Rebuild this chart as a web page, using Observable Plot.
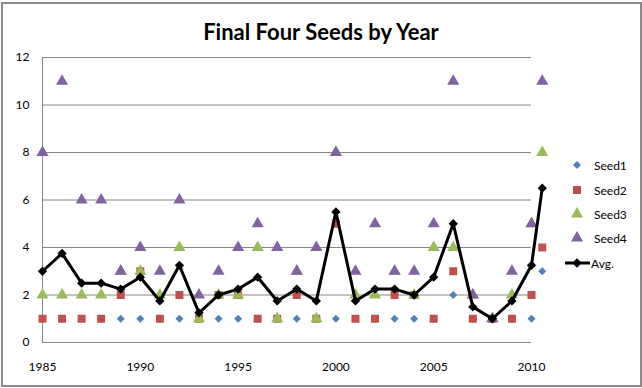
<!DOCTYPE html>
<html>
<head>
<meta charset="utf-8">
<script src="https://cdn.jsdelivr.net/npm/d3@7"></script>
<script src="https://cdn.jsdelivr.net/npm/@observablehq/plot@0.6"></script>
<style>
  html, body { margin: 0; padding: 0; background: #fff; }
  #wrap { position: relative; width: 642px; height: 388px; font-family: Lato, "Open Sans", sans-serif; }
  #frame { position: absolute; left: 1px; top: 2px; width: 637px; height: 381px; border: 2px solid #8a8a8a; box-sizing: content-box; pointer-events: none; }
  #title { position: absolute; left: 0; width: 642px; top: 18px; text-align: center; font-weight: bold; font-size: 22px; color: #000; }
  #chart { position: absolute; left: 0; top: 0; }
  .leg { position: absolute; left: 560px; font-size: 12px; color: #000; display: flex; align-items: center; }
  .leg svg { margin-right: 4px; }
</style>
</head>
<body>
<div id="wrap">
  <div id="chart"></div>
  <div id="title">Final Four Seeds by Year</div>
  <div id="legend"></div>
  <div id="frame"></div>
</div>
<script>
// Years (last point drawn just past the 2010 edge, as in the reference)
const years = [1985,1986,1987,1988,1989,1990,1991,1992,1993,1994,1995,1996,1997,1998,1999,2000,2001,2002,2003,2004,2005,2006,2007,2008,2009,2010,2010.55];
const seed1 = [1,1,1,1,1,1,1,1,1,1,1,1,1,1,1,1,1,1,1,1,1,2,1,1,1,1,3];
const seed2 = [1,1,1,1,2,3,1,2,1,2,2,1,1,2,1,5,1,1,2,2,1,3,1,1,1,2,4];
const seed3 = [2,2,2,2,3,3,2,4,1,2,2,4,1,3,1,8,2,2,3,2,4,4,2,1,2,5,8];
const seed4 = [8,11,6,6,3,4,3,6,2,3,4,5,4,3,4,8,3,5,3,3,5,11,2,1,3,5,11];
const avg   = [3,3.75,2.5,2.5,2.25,2.75,1.75,3.25,1.25,2,2.25,2.75,1.75,2.25,1.75,5.5,1.75,2.25,2.25,2,2.75,5,1.5,1,1.75,3.25,6.5];
const yTicks = [0,2,4,6,8,10,12];
const xTicks = [1985,1990,1995,2000,2005,2010];
const seriesNames = ["Seed1","Seed2","Seed3","Seed4","Avg."];
const colors = ["#4F81BD","#C0504D","#9BBB59","#8064A2","#000000"];

const rows = years.map((y, i) => ({year: y, s1: seed1[i], s2: seed2[i], s3: seed3[i], s4: seed4[i], avg: avg[i]}));

const chart = Plot.plot({
  width: 642,
  height: 388,
  marginLeft: 42,
  marginRight: 111,
  marginTop: 57,
  marginBottom: 46,
  style: {fontFamily: "Lato, 'Open Sans', sans-serif", fontSize: "12px", background: "transparent", overflow: "visible"},
  x: {domain: [1985, 2010], label: null},
  y: {domain: [0, 12], label: null},
  marks: [
    Plot.gridY(yTicks, {stroke: "#868686", strokeOpacity: 1, strokeWidth: 1}),
    Plot.ruleX([1985], {stroke: "#868686", strokeWidth: 1}),
    Plot.axisY({ticks: yTicks, tickSize: 0, tickPadding: 13, fill: "#000", fontSize: 12, label: null}),
    Plot.axisX({ticks: xTicks, tickSize: 0, tickPadding: 20, fill: "#000", fontSize: 12, label: null, tickFormat: d => String(d)}),
    Plot.dot(rows, {x: "year", y: "s1", symbol: "diamond2", r: 3.6, fill: colors[0], stroke: "none"}),
    Plot.dot(rows, {x: "year", y: "s2", symbol: "square", r: 4.5, fill: colors[1], stroke: "none"}),
    Plot.dot(rows, {x: "year", y: "s3", symbol: "triangle", r: 4.5, fill: colors[2], stroke: "none"}),
    Plot.dot(rows, {x: "year", y: "s4", symbol: "triangle", r: 4.5, fill: colors[3], stroke: "none"}),
    Plot.line(rows, {x: "year", y: "avg", stroke: "#000", strokeWidth: 3, strokeLinejoin: "miter"}),
    Plot.dot(rows, {x: "year", y: "avg", symbol: "diamond2", r: 4.2, fill: "#000", stroke: "none"})
  ]
});
document.getElementById("chart").appendChild(chart);

// Legend
const legendTops = [165, 190, 214, 238, 263];
const symbols = ["diamond2","square","triangle","triangle","avg"];
const leg = document.getElementById("legend");
seriesNames.forEach((name, i) => {
  const d = document.createElement("div");
  d.className = "leg";
  d.style.top = (legendTops[i] - 9) + "px";
  d.style.height = "18px";
  const w = 30, h = 18;
  const svg = d3.create("svg").attr("width", w).attr("height", h);
  const cx = 17, cy = 9;
  if (symbols[i] === "avg") {
    svg.append("line").attr("x1", 5).attr("x2", w).attr("y1", cy).attr("y2", cy).attr("stroke", "#000").attr("stroke-width", 3);
    svg.append("path").attr("d", d3.symbol(d3.symbolDiamond2, 4.2 * 4.2 * Math.PI)()).attr("transform", `translate(${cx},${cy})`).attr("fill", "#000");
  } else {
    const sym = symbols[i] === "diamond2" ? d3.symbolDiamond2 : symbols[i] === "square" ? d3.symbolSquare : d3.symbolTriangle;
    const r = symbols[i] === "diamond2" ? 3.6 : 4.5;
    svg.append("path").attr("d", d3.symbol(sym, r * r * Math.PI)()).attr("transform", `translate(${cx},${cy})`).attr("fill", colors[i]);
  }
  d.appendChild(svg.node());
  const t = document.createElement("span");
  t.textContent = name;
  if (symbols[i] === "avg") { svg.node().style.marginRight = "1px"; }
  d.appendChild(t);
  leg.appendChild(d);
});
</script>
</body>
</html>
